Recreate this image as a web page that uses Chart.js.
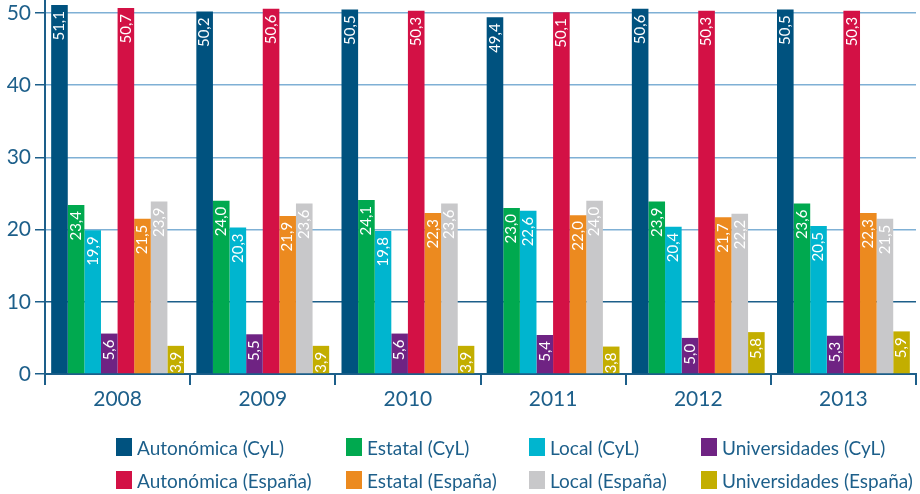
<!DOCTYPE html>
<html>
<head>
<meta charset="utf-8">
<script src="https://cdn.jsdelivr.net/npm/chart.js@4/dist/chart.umd.min.js"></script>
<style>
  html, body { margin: 0; padding: 0; background: #fff; }
  #wrap { position: relative; width: 920px; height: 494px; }
  #legend { position: absolute; left: 0; top: 0; width: 920px; height: 494px; pointer-events: none;
            font-family: Lato, "Open Sans", sans-serif; font-size: 19px; color: #1d5f8a; }
  .item { position: absolute; display: flex; align-items: center; white-space: nowrap; }
  .box { width: 16px; height: 18px; margin-right: 5px; }
</style>
</head>
<body>
<div id="wrap">
  <canvas id="c" width="920" height="494"></canvas>
  <div id="legend"></div>
</div>
<script>
const years = ["2008", "2009", "2010", "2011", "2012", "2013"];
const seriesNames = [
  "Autonómica (CyL)", "Estatal (CyL)", "Local (CyL)", "Universidades (CyL)",
  "Autonómica (España)", "Estatal (España)", "Local (España)", "Universidades (España)"
];
const autonomicaCyL   = [51.1, 50.2, 50.5, 49.4, 50.6, 50.5];
const estatalCyL      = [23.4, 24.0, 24.1, 23.0, 23.9, 23.6];
const localCyL        = [19.9, 20.3, 19.8, 22.6, 20.4, 20.5];
const universidadesCyL= [5.6, 5.5, 5.6, 5.4, 5.0, 5.3];
const autonomicaEsp   = [50.7, 50.6, 50.3, 50.1, 50.3, 50.3];
const estatalEsp      = [21.5, 21.9, 22.3, 22.0, 21.7, 22.3];
const localEsp        = [23.9, 23.6, 23.6, 24.0, 22.2, 21.5];
const universidadesEsp= [3.9, 3.9, 3.9, 3.8, 5.8, 5.9];
const yTicks = [0, 10, 20, 30, 40, 50];

const seriesValues = [autonomicaCyL, estatalCyL, localCyL, universidadesCyL,
                      autonomicaEsp, estatalEsp, localEsp, universidadesEsp];
const colors = ["#00527f", "#00a94f", "#00b5cf", "#6f2383",
                "#d31145", "#ec8a1f", "#c8c8ca", "#c3ae00"];

const dark = "#1d5f8a";
const light = "#7fb0d5";

const barLabels = {
  id: "barLabels",
  afterDatasetsDraw(chart) {
    const ctx = chart.ctx;
    ctx.save();
    ctx.font = "15px Lato, 'Open Sans', sans-serif";
    ctx.fillStyle = "#ffffff";
    ctx.textAlign = "right";
    ctx.textBaseline = "middle";
    chart.data.datasets.forEach((ds, i) => {
      const meta = chart.getDatasetMeta(i);
      meta.data.forEach((bar, j) => {
        const v = ds.data[j];
        const txt = v.toFixed(1).replace(".", ",");
        ctx.save();
        ctx.translate(bar.x, bar.y + 6);
        ctx.rotate(-Math.PI / 2);
        ctx.fillText(txt, 0, 0);
        ctx.restore();
      });
    });
    ctx.restore();
  }
};

new Chart(document.getElementById("c"), {
  type: "bar",
  data: {
    labels: years,
    datasets: seriesNames.map((n, i) => ({
      label: n,
      data: seriesValues[i],
      backgroundColor: colors[i],
      borderWidth: 0,
      barPercentage: 1.0,
      categoryPercentage: 0.915
    }))
  },
  options: {
    responsive: false,
    animation: false,
    layout: { padding: { top: 0, right: 4, bottom: 80, left: 0 } },
    plugins: { legend: { display: false }, tooltip: { enabled: false } },
    scales: {
      x: {
        afterFit(s) { s.height = 40; },
        border: { color: dark, width: 2 },
        grid: { offset: true, drawOnChartArea: false, color: dark, lineWidth: 2, tickLength: 11 },
        ticks: { color: dark, font: { family: "Lato, 'Open Sans', sans-serif", size: 21 }, padding: 2 }
      },
      y: {
        min: 0, max: 51.8,
        afterFit(s) { s.width = 45; s.paddingTop = 0; },
        afterBuildTicks(s) { s.ticks = yTicks.map(v => ({ value: v })); },
        border: { color: dark, width: 2 },
        grid: {
          color: (c) => (c.tick && c.tick.value === 10 ? dark : light),
          lineWidth: 1.5,
          tickColor: dark,
          tickLength: 10
        },
        ticks: { color: dark, font: { family: "Lato, 'Open Sans', sans-serif", size: 21, lineHeight: 0.2 }, padding: 4 }
      }
    }
  },
  plugins: [barLabels]
});

// HTML legend (2 rows x 4 columns)
const colX = [116, 346, 529, 701];
const rowY = [447, 480];
const legend = document.getElementById("legend");
seriesNames.forEach((n, i) => {
  const col = i % 4, row = Math.floor(i / 4);
  const el = document.createElement("div");
  el.className = "item";
  el.style.left = colX[col] + "px";
  el.style.top = (rowY[row] - 12) + "px";
  el.style.height = "24px";
  el.innerHTML = '<span class="box" style="background:' + colors[i] + '"></span><span>' + n + '</span>';
  legend.appendChild(el);
});
</script>
</body>
</html>
